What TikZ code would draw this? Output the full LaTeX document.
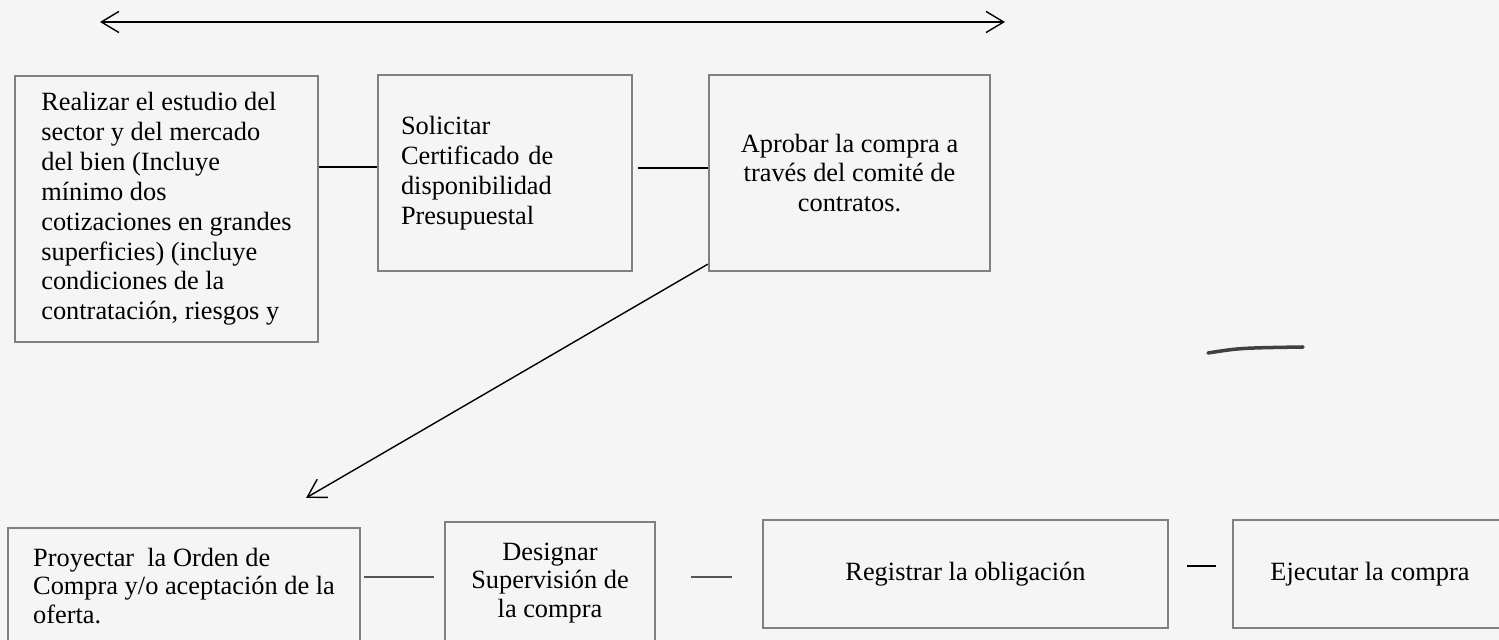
\documentclass[tikz,border=0pt]{standalone}
\usepackage{fontspec}
\setmainfont{Liberation Serif}
\usetikzlibrary{arrows.meta}
\begin{document}
\begin{tikzpicture}[
  caja/.style={draw=black!50, line width=1.3pt, inner sep=0pt, font=\fontsize{15}{17}\selectfont},
  cajabaja/.style={caja, font=\fontsize{15}{16}\selectfont},
  enlace/.style={line width=0.8pt},
  punta/.tip={Straight Barb[length=10pt,width=12pt]}]
  \fill[black!4] (0,0) rectangle (29.98,-12.8);
  \useasboundingbox (0,0) rectangle (29.98,-12.8);
  \coordinate (izq) at (2.0,-0.44);
  \coordinate (der) at (20.1,-0.44);
  \draw[enlace, punta-punta] (izq) -- (der);
  \node[caja, minimum width=6.06cm, minimum height=5.32cm, align=left] (estudio) at (3.33,-4.18)
    {Realizar el estudio del\\sector y del mercado\\del bien (Incluye\\mínimo dos\\cotizaciones en grandes\\superficies) (incluye\\condiciones de la\\contratación, riesgos y};
  \node[caja, minimum width=5.08cm, minimum height=3.92cm, text width=4.16cm, align=left] (cdp) at (10.10,-3.46)
    {Solicitar\\Certificado de\\disponibilidad\\Presupuestal};
  \node[caja, minimum width=5.62cm, minimum height=3.92cm, align=center] (comite) at (16.99,-3.46)
    {Aprobar la compra a\\través del comité de\\contratos.};
  \node[cajabaja, minimum width=7.04cm, minimum height=2.32cm, align=left] (orden) at (3.68,-11.72)
    {Proyectar~ la Orden de\\Compra y/o aceptación de la\\oferta.};
  \node[cajabaja, minimum width=4.2cm, minimum height=2.44cm, align=center] (sup) at (11.0,-11.66)
    {Designar\\Supervisión de\\la compra};
  \node[caja, minimum width=8.1cm, minimum height=2.16cm] (registro) at (19.31,-11.48) {Registrar la obligación};
  \node[caja, minimum width=5.48cm, minimum height=2.16cm] (ejecutar) at (27.4,-11.48) {Ejecutar la compra};
  \draw[enlace] ([yshift=0.12cm]cdp.west -| estudio.east) -- ([yshift=0.12cm]cdp.west);
  \draw[enlace] ([shift={(0.1,0.1)}]cdp.east) -- ([yshift=0.1cm]comite.west);
  \draw[enlace, -punta] ([yshift=0.16cm]comite.south west) -- ([shift={(-1.1,0.58)}]orden.north east);
  \draw[enlace] ([shift={(0.06,0.18)}]orden.east) -- ([shift={(-0.2,0.12)}]sup.west);
  \draw[enlace] ([shift={(0.7,0.12)}]sup.east) -- ([shift={(-0.6,-0.06)}]registro.west);
  \draw[enlace] ([shift={(0.36,0.16)}]registro.east) -- ([shift={(-0.32,0.16)}]ejecutar.west);
  \draw[line width=2pt, black!75, line cap=round] (24.16,-7.06) .. controls (24.8,-6.96) .. (26.06,-6.94);
\end{tikzpicture}
\end{document}
